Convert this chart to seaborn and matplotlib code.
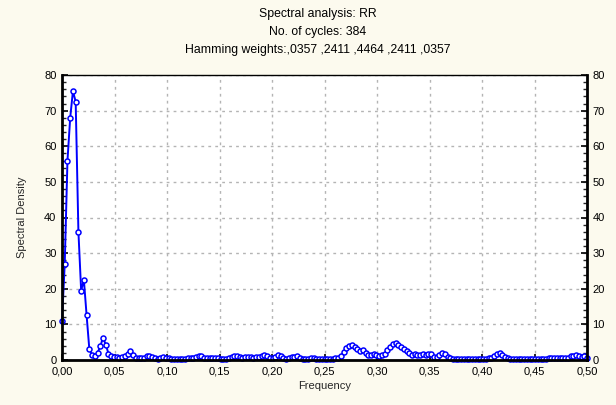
import matplotlib
matplotlib.use("Agg")
import matplotlib.pyplot as plt
import seaborn as sns
import pandas as pd
from matplotlib.ticker import MultipleLocator, FuncFormatter

title_lines = ["Spectral analysis: RR", "No. of cycles: 384",
               "Hamming weights:,0357 ,2411 ,4464 ,2411 ,0357"]
x_label = "Frequency"
y_label = "Spectral Density"

frequency = [
    0.00000, 0.00260, 0.00521, 0.00781, 0.01042, 0.01302, 0.01563, 0.01823, 0.02083, 0.02344,
    0.02604, 0.02865, 0.03125, 0.03385, 0.03646, 0.03906, 0.04167, 0.04427, 0.04688, 0.04948,
    0.05208, 0.05469, 0.05729, 0.05990, 0.06250, 0.06510, 0.06771, 0.07031, 0.07292, 0.07552,
    0.07813, 0.08073, 0.08333, 0.08594, 0.08854, 0.09115, 0.09375, 0.09635, 0.09896, 0.10156,
    0.10417, 0.10677, 0.10938, 0.11198, 0.11458, 0.11719, 0.11979, 0.12240,
    0.12500, 0.12760, 0.13021, 0.13281, 0.13542, 0.13802, 0.14063, 0.14323, 0.14583, 0.14844,
    0.15104, 0.15365, 0.15625, 0.15885, 0.16146, 0.16406, 0.16667, 0.16927, 0.17188, 0.17448,
    0.17708, 0.17969, 0.18229, 0.18490, 0.18750, 0.19010, 0.19271, 0.19531, 0.19792, 0.20052,
    0.20313, 0.20573, 0.20833, 0.21094, 0.21354, 0.21615, 0.21875, 0.22135, 0.22396, 0.22656,
    0.22917, 0.23177, 0.23438, 0.23698, 0.23958, 0.24219, 0.24479, 0.24740,
    0.25000, 0.25260, 0.25521, 0.25781, 0.26042, 0.26302, 0.26563, 0.26823, 0.27083, 0.27344,
    0.27604, 0.27865, 0.28125, 0.28385, 0.28646, 0.28906, 0.29167, 0.29427, 0.29688, 0.29948,
    0.30208, 0.30469, 0.30729, 0.30990, 0.31250, 0.31510, 0.31771, 0.32031, 0.32292, 0.32552,
    0.32813, 0.33073, 0.33333, 0.33594, 0.33854, 0.34115, 0.34375, 0.34635, 0.34896, 0.35156,
    0.35417, 0.35677, 0.35938, 0.36198, 0.36458, 0.36719, 0.36979, 0.37240,
    0.37500, 0.37760, 0.38021, 0.38281, 0.38542, 0.38802, 0.39063, 0.39323, 0.39583, 0.39844,
    0.40104, 0.40365, 0.40625, 0.40885, 0.41146, 0.41406, 0.41667, 0.41927, 0.42188, 0.42448,
    0.42708, 0.42969, 0.43229, 0.43490, 0.43750, 0.44010, 0.44271, 0.44531, 0.44792, 0.45052,
    0.45313, 0.45573, 0.45833, 0.46094, 0.46354, 0.46615, 0.46875, 0.47135, 0.47396, 0.47656,
    0.47917, 0.48177, 0.48438, 0.48698, 0.48958, 0.49219, 0.49479, 0.49740,
    0.50000,
]

density = [
    11.0, 27.0, 56.0, 68.0, 75.5, 72.5, 36.0, 19.5, 22.5, 12.5,
    3.0, 1.5, 1.2, 2.0, 3.8, 6.3, 4.3, 1.8, 1.0, 0.8,
    0.9, 0.7, 0.8, 1.0, 1.6, 2.6, 1.5, 0.7, 0.6, 0.5,
    0.6, 1.0, 1.2, 0.8, 0.5, 0.4, 0.6, 0.9, 0.7, 0.5,
    0.3, 0.3, 0.4, 0.4, 0.3, 0.4, 0.5, 0.6, 0.7, 0.9,
    1.2, 1.0, 0.7, 0.6, 0.7, 0.6, 0.5, 0.5, 0.4, 0.3,
    0.4, 0.5, 0.9, 1.2, 1.1, 0.8, 0.7, 0.8, 0.9, 0.8,
    0.7, 0.8, 0.9, 1.1, 1.3, 1.2, 0.7, 0.5, 0.9, 1.4,
    1.1, 0.6, 0.4, 0.5, 0.8, 0.9, 1.0, 0.5, 0.3, 0.3,
    0.4, 0.5, 0.6, 0.4, 0.3, 0.3, 0.4, 0.4, 0.4, 0.4,
    0.5, 0.6, 1.0, 2.3, 3.4, 3.9, 4.1, 3.6, 3.0, 2.4,
    2.9, 2.1, 1.4, 1.5, 1.8, 1.4, 1.2, 1.3, 1.8, 2.7,
    3.6, 4.4, 4.9, 4.3, 3.7, 3.0, 2.4, 1.9, 1.5, 1.8,
    1.4, 1.5, 1.8, 1.5, 1.6, 1.6, 0.9, 0.8, 1.4, 1.9,
    1.6, 0.9, 0.5, 0.3, 0.3, 0.3, 0.3, 0.3, 0.3, 0.3,
    0.3, 0.3, 0.3, 0.3, 0.3, 0.4, 0.5, 0.7, 1.1, 1.6,
    1.9, 1.5, 0.9, 0.6, 0.4, 0.3, 0.3, 0.3, 0.3, 0.3,
    0.3, 0.3, 0.3, 0.3, 0.3, 0.3, 0.3, 0.4, 0.5, 0.6,
    0.5, 0.6, 0.7, 0.5, 0.6, 0.7, 1.0, 1.2, 1.3, 1.1,
    0.9, 1.0, 0.7,
]

sns.set_style("white")
plt.rcParams["font.family"] = ["Liberation Sans", "DejaVu Sans"]

bg = "#FCFAEE"
fig = plt.figure(figsize=(6.16, 4.05), dpi=100, facecolor=bg)
ax = fig.add_axes([62 / 616, 1 - 360 / 405, (587 - 62) / 616, (360 - 75) / 405])
ax.set_facecolor("white")

df = pd.DataFrame({"f": frequency, "d": density})
sns.lineplot(data=df, x="f", y="d", ax=ax, estimator=None, sort=False,
             color="#0000FF", linewidth=1.4, marker="o", markersize=3.6,
             markerfacecolor="white", markeredgecolor="#0000FF",
             markeredgewidth=1.1, clip_on=False, zorder=3)

ax.set_xlim(0, 0.5)
ax.set_ylim(0, 80)
ax.xaxis.set_major_locator(MultipleLocator(0.05))
ax.yaxis.set_major_locator(MultipleLocator(10))
ax.yaxis.set_minor_locator(MultipleLocator(2))
ax.xaxis.set_major_formatter(FuncFormatter(lambda v, p: f"{v:.2f}".replace(".", ",")))
ax.yaxis.set_major_formatter(FuncFormatter(lambda v, p: f"{v:.0f}"))

ax.grid(True, which="major", color="#B4B4B4", linestyle=(0, (2, 3)), linewidth=1.0)
ax.set_axisbelow(True)

for side in ["left", "bottom", "right"]:
    ax.spines[side].set_color("black")
    ax.spines[side].set_linewidth(2.0)
ax.spines["top"].set_color("black")
ax.spines["top"].set_linewidth(1.0)
for s in ax.spines.values():
    s.set_zorder(4)

ax.tick_params(axis="both", which="major", direction="in", length=4, width=1.2,
               labelsize=8, colors="black")
ax.tick_params(axis="y", which="both", left=True, right=True,
               labelleft=True, labelright=True, pad=4)
ax.tick_params(axis="y", which="minor", direction="in", length=3, width=1.0)
ax.tick_params(axis="x", which="both", bottom=True, top=False, pad=5)

ax.set_xlabel(x_label, fontsize=8, labelpad=3)
ax.set_ylabel(y_label, fontsize=8, labelpad=12)

for i, line in enumerate(title_lines):
    fig.text(318 / 616, 1 - (13.5 + 18.5 * i) / 405, line, ha="center", va="center",
             fontsize=8.8, color="black")

fig.savefig("out.png", dpi=100, facecolor=bg)
